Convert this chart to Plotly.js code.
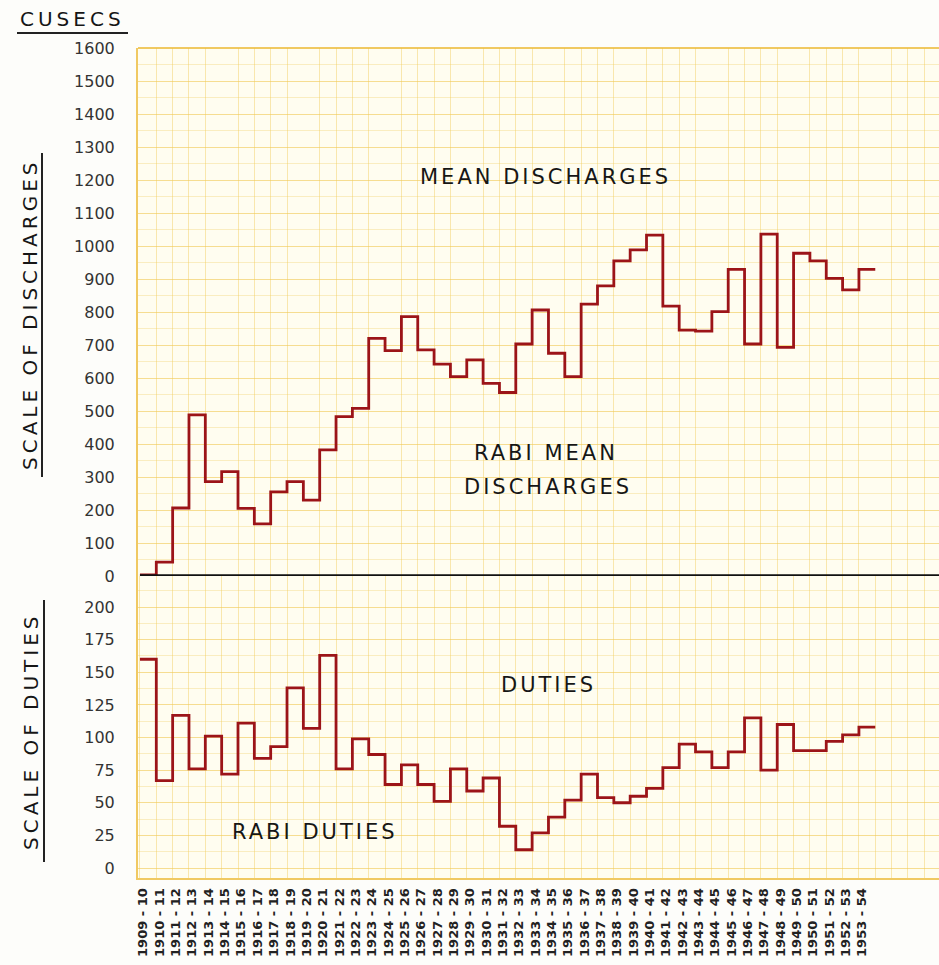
<!DOCTYPE html>
<html><head><meta charset="utf-8">
<script src="https://cdn.plot.ly/plotly-3.0.1.min.js"></script>
<style>html,body{margin:0;padding:0;background:#fdfdfa;}</style>
</head><body><div id="chart" style="width:939px;height:965px;"></div>
<script>
const yearLabels = [
  "1909 - 10","1910 - 11","1911 - 12","1912 - 13","1913 - 14","1914 - 15","1915 - 16","1916 - 17","1917 - 18","1918 - 19",
  "1919 - 20","1920 - 21","1921 - 22","1922 - 23","1923 - 24","1924 - 25","1925 - 26","1926 - 27","1927 - 28","1928 - 29",
  "1929 - 30","1930 - 31","1931 - 32","1932 - 33","1933 - 34","1934 - 35","1935 - 36","1936 - 37","1937 - 38","1938 - 39",
  "1939 - 40","1940 - 41","1941 - 42","1942 - 43","1943 - 44","1944 - 45","1945 - 46","1946 - 47","1947 - 48","1948 - 49",
  "1949 - 50","1950 - 51","1951 - 52","1952 - 53","1953 - 54"
];
// Rabi mean discharges (cusecs)
const meanDischarges = [
  3, 42, 206, 488, 286, 316, 205, 158, 255, 286,
  230, 382, 483, 508, 720, 683, 786, 685, 642, 604,
  655, 584, 556, 703, 806, 675, 604, 824, 879, 955,
  988, 1033, 818, 745, 742, 801, 929, 703, 1036, 693,
  978, 955, 902, 867, 929
];
// Rabi duties
const rabiDuties = [
  160, 67, 117, 76, 101, 72, 111, 84, 93, 138,
  107, 163, 76, 99, 87, 64, 79, 64, 51, 76,
  59, 69, 32, 14, 27, 39, 52, 72, 54, 50,
  55, 61, 77, 95, 89, 77, 89, 115, 75, 110,
  90, 90, 97, 102, 108
];
const dischargeTicks = [0,100,200,300,400,500,600,700,800,900,1000,1100,1200,1300,1400,1500,1600];
const dutyTicks = [0,25,50,75,100,125,150,175,200];

const idx = yearLabels.map((_, i) => i);
const stepX = idx.concat([yearLabels.length]);
const dischY = meanDischarges.concat([meanDischarges[meanDischarges.length - 1]]);
const dutyY = rabiDuties.concat([rabiDuties[rabiDuties.length - 1]]);

const RED = '#9c1418';
const FONT = 'DejaVu Sans, Liberation Sans, sans-serif';
const GRID = 'rgba(240,200,80,0.42)';
const GRID2 = 'rgba(240,205,90,0.32)';
const FRAME = 'rgba(236,188,60,0.8)';

// plot area: left 138, right 939, top 48, bottom 878
const L = 138, R = 939, T = 48, B = 878;
const px = v => (v - L) / (R - L);
const py = v => (B - v) / (B - T);
const split = py(576);

const traces = [
  {x: stepX, y: dischY, xaxis: 'x', yaxis: 'y', type: 'scatter', mode: 'lines',
   line: {shape: 'hv', color: RED, width: 2.8}, hoverinfo: 'skip'},
  {x: stepX, y: dutyY, xaxis: 'x2', yaxis: 'y2', type: 'scatter', mode: 'lines',
   line: {shape: 'hv', color: RED, width: 2.8}, hoverinfo: 'skip'}
];

const xr = [-0.12, 48.9];
const xCommon = {
  range: xr, showgrid: false, zeroline: false, ticks: '',
  minor: {dtick: 1, tick0: 0, showgrid: true, gridcolor: GRID, gridwidth: 1, ticks: ''}
};

const sp = (t, s) => '<span style="letter-spacing:' + (s || 4) + 'px">' + t + '</span>';
const textFont = {family: FONT, size: 20, color: '#161616'};

const layout = {
  width: 939, height: 965,
  margin: {l: L, r: 0, t: T, b: 965 - B},
  paper_bgcolor: '#fdfdfa',
  plot_bgcolor: '#fffdf0',
  showlegend: false,
  xaxis: Object.assign({}, xCommon, {domain: [0, 1], anchor: 'y', showticklabels: false}),
  xaxis2: Object.assign({}, xCommon, {
    domain: [0, 1], anchor: 'y2',
    tickmode: 'array', tickvals: idx.map(i => i + 0.2), ticktext: yearLabels,
    tickangle: -90, tickfont: {family: FONT, size: 13, color: '#222', weight: 'bold'},
    showline: true, linecolor: FRAME, linewidth: 2, ticklabelstandoff: 3
  }),
  yaxis: {
    domain: [split, 1], anchor: 'x', range: [0, 1600],
    tickmode: 'array', tickvals: dischargeTicks, ticktext: dischargeTicks.map(String),
    tickfont: {family: FONT, size: 16, color: '#333'},
    ticks: '', ticklabelstandoff: 18,
    showgrid: true, gridcolor: GRID, gridwidth: 1, zeroline: false,
    minor: {dtick: 50, tick0: 0, showgrid: true, gridcolor: GRID2, ticks: ''},
    showline: true, linecolor: FRAME, linewidth: 2, mirror: false
  },
  yaxis2: {
    domain: [0, split], anchor: 'x2', range: [-7.66, 223.8],
    tickmode: 'array', tickvals: dutyTicks, ticktext: dutyTicks.map(String),
    tickfont: {family: FONT, size: 16, color: '#333'},
    ticks: '', ticklabelstandoff: 18,
    showgrid: true, gridcolor: GRID, gridwidth: 1, zeroline: false,
    minor: {dtick: 12.5, tick0: 0, showgrid: true, gridcolor: GRID2, ticks: ''},
    showline: true, linecolor: FRAME, linewidth: 2
  },
  shapes: [
    // top edge of the graph paper
    {type: 'line', xref: 'paper', yref: 'paper', x0: 0, x1: 1, y0: 1, y1: 1,
     line: {color: FRAME, width: 2}},
    // heavy black dividing line at zero discharge
    {type: 'line', xref: 'x', yref: 'y', x0: 0, x1: xr[1], y0: 0, y1: 0,
     line: {color: '#111', width: 3.5}, layer: 'above'},
    // underlines
    {type: 'line', xref: 'paper', yref: 'paper', x0: px(17), x1: px(128), y0: py(33), y1: py(33),
     line: {color: '#222', width: 2}},
    {type: 'line', xref: 'paper', yref: 'paper', x0: px(42), x1: px(42), y0: py(153), y1: py(477),
     line: {color: '#222', width: 2}},
    {type: 'line', xref: 'paper', yref: 'paper', x0: px(44), x1: px(44), y0: py(600), y1: py(862),
     line: {color: '#222', width: 2}}
  ],
  annotations: [
    {text: sp('CUSECS'), xref: 'paper', yref: 'paper', x: px(72), y: py(19),
     xanchor: 'center', yanchor: 'middle', showarrow: false, font: textFont},
    {text: sp('SCALE OF DISCHARGES'), xref: 'paper', yref: 'paper', x: px(30), y: py(314),
     xanchor: 'center', yanchor: 'middle', showarrow: false, textangle: -90, font: textFont},
    {text: sp('SCALE OF DUTIES'), xref: 'paper', yref: 'paper', x: px(31), y: py(731),
     xanchor: 'center', yanchor: 'middle', showarrow: false, textangle: -90, font: textFont},
    {text: sp('MEAN DISCHARGES', 3), xref: 'paper', yref: 'paper', x: px(545), y: py(177),
     xanchor: 'center', yanchor: 'middle', showarrow: false, font: Object.assign({}, textFont, {size: 21})},
    {text: sp('RABI MEAN', 3), xref: 'paper', yref: 'paper', x: px(546), y: py(453),
     xanchor: 'center', yanchor: 'middle', showarrow: false, font: Object.assign({}, textFont, {size: 21})},
    {text: sp('DISCHARGES', 3), xref: 'paper', yref: 'paper', x: px(548), y: py(487),
     xanchor: 'center', yanchor: 'middle', showarrow: false, font: Object.assign({}, textFont, {size: 21})},
    {text: sp('DUTIES', 3), xref: 'paper', yref: 'paper', x: px(548), y: py(685),
     xanchor: 'center', yanchor: 'middle', showarrow: false, font: Object.assign({}, textFont, {size: 21})},
    {text: sp('RABI DUTIES', 3), xref: 'paper', yref: 'paper', x: px(315), y: py(832),
     xanchor: 'center', yanchor: 'middle', showarrow: false, font: Object.assign({}, textFont, {size: 21})}
  ]
};

Plotly.newPlot('chart', traces, layout, {displayModeBar: false, staticPlot: true});
</script>
</body></html>
